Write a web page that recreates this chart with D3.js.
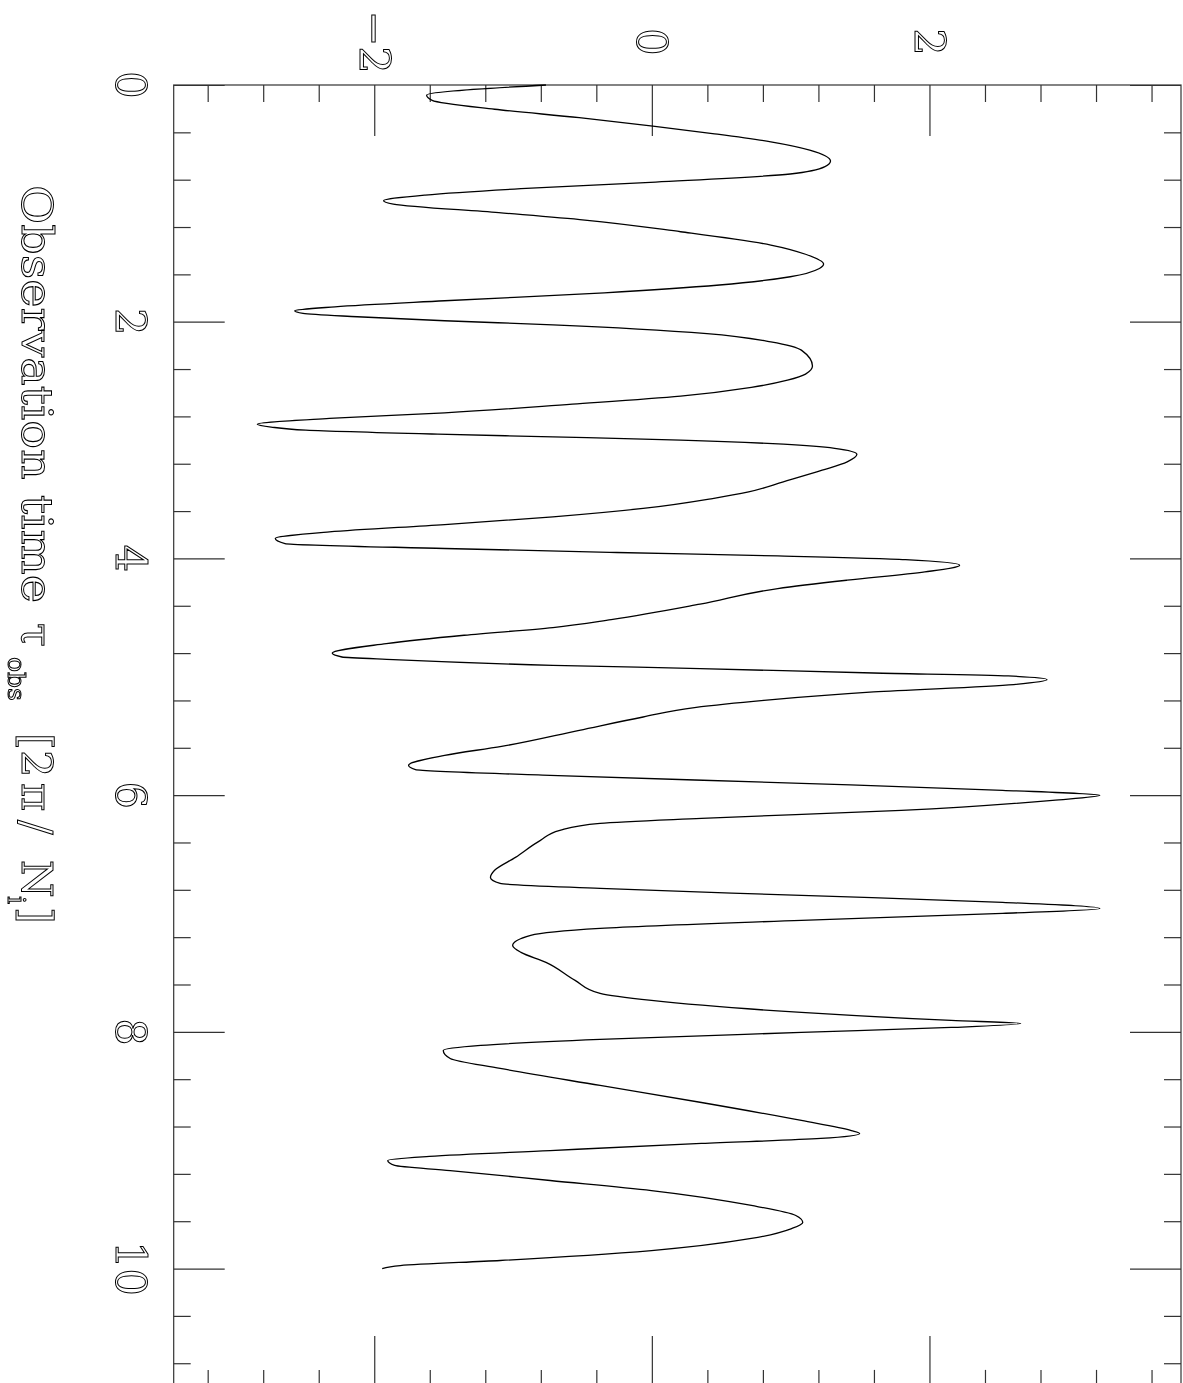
<!DOCTYPE html>
<html>
<head>
<meta charset="utf-8">
<script src="https://cdn.jsdelivr.net/npm/d3@7"></script>
<style>
body { margin: 0; background: #fff; }
svg { display: block; filter: grayscale(1); }
.lbl { font-family: "DejaVu Serif", serif; fill: #fff; stroke: #000; stroke-width: 1; }
</style>
</head>
<body>
<div id="chart"></div>
<script>
// time in units of 2 pi / N_i
let tObs = [0.000, 0.085, 0.130, 0.205, 0.276, 0.347, 0.410, 0.480, 0.550, 0.643,
    0.690, 0.752, 0.820, 0.876, 0.930, 0.978, 1.006, 1.079, 1.141, 1.240,
    1.352, 1.430, 1.513, 1.550, 1.620, 1.690, 1.756, 1.823, 1.874, 1.908,
    1.930, 1.958, 1.992, 2.026, 2.100, 2.170, 2.240, 2.375, 2.443, 2.494,
    2.555, 2.629, 2.697, 2.770, 2.817, 2.866, 2.890, 2.916, 2.950, 2.973,
    3.000, 3.035, 3.070, 3.120, 3.184, 3.255, 3.353, 3.438, 3.494, 3.578,
    3.649, 3.714, 3.776, 3.832, 3.874, 3.916, 3.950, 3.979, 4.010, 4.057,
    4.114, 4.184, 4.255, 4.387, 4.517, 4.584, 4.649, 4.720, 4.800, 4.833,
    4.855, 4.903, 4.931, 4.968, 4.993, 5.024, 5.066, 5.128, 5.199, 5.260,
    5.340, 5.452, 5.588, 5.664, 5.748, 5.785, 5.833, 5.900, 5.959, 6.002,
    6.044, 6.129, 6.196, 6.238, 6.297, 6.382, 6.526, 6.635, 6.695, 6.746,
    6.788, 6.847, 6.906, 6.957, 6.999, 7.058, 7.126, 7.185, 7.270, 7.329,
    7.413, 7.565, 7.675, 7.735, 7.836, 7.904, 7.929, 7.963, 8.005, 8.064,
    8.115, 8.157, 8.225, 8.309, 8.453, 8.597, 8.749, 8.834, 8.859, 8.901,
    8.943, 9.003, 9.053, 9.087, 9.129, 9.172, 9.256, 9.341, 9.467, 9.552,
    9.611, 9.662, 9.746, 9.848, 9.932, 9.975, 10.000];

let signal = [-0.77, -1.63, -1.59, -1.14, -0.53, 0.00, 0.43, 0.85, 1.13, 1.28,
    1.24, 0.99, 0.02, -0.95, -1.64, -1.94, -1.87, -1.11, -0.49, 0.20,
    0.85, 1.10, 1.23, 1.20, 0.99, 0.48, -0.35, -1.50, -2.29, -2.58,
    -2.52, -2.13, -1.50, -0.72, 0.39, 0.85, 1.07, 1.15, 1.10, 0.97,
    0.71, 0.20, -0.58, -1.50, -2.33, -2.85, -2.75, -2.50, -1.55, -0.72,
    0.20, 0.94, 1.31, 1.47, 1.40, 1.22, 0.94, 0.69, 0.43, -0.07,
    -0.72, -1.50, -2.33, -2.72, -2.65, -1.50, -0.26, 0.90, 1.82, 2.21,
    1.96, 1.40, 0.90, 0.34, -0.30, -0.72, -1.36, -1.92, -2.31, -2.24,
    -1.87, -0.72, 0.34, 1.59, 2.56, 2.84, 2.60, 1.59, 0.80, 0.30,
    -0.07, -0.53, -1.09, -1.50, -1.76, -1.71, -0.74, 1.07, 2.52, 3.22,
    2.88, 1.79, 0.35, -0.38, -0.67, -0.81, -0.99, -1.14, -1.17, -1.10,
    -0.38, 1.07, 2.52, 3.22, 2.52, 1.07, -0.38, -0.88, -1.01, -0.95,
    -0.77, -0.56, -0.38, -0.01, 1.07, 2.15, 2.65, 2.15, 1.07, -0.38,
    -1.24, -1.51, -1.46, -1.10, -0.38, 0.35, 1.07, 1.43, 1.49, 1.21,
    0.35, -0.74, -1.61, -1.91, -1.86, -1.46, -0.74, -0.01, 0.71, 1.03,
    1.08, 1.00, 0.71, -0.01, -1.10, -1.82, -1.95];

let timeTicks = [0, 2, 4, 6, 8, 10];
let timeMinor = [0.4, 0.8, 1.2, 1.6, 2.4, 2.8, 3.2, 3.6, 4.4, 4.8, 5.2, 5.6,
    6.4, 6.8, 7.2, 7.6, 8.4, 8.8, 9.2, 9.6, 10.4, 10.8];
let valueTicks = [-2, 0, 2];
let valueMinor = [-3.2, -2.8, -2.4, -1.6, -1.2, -0.8, -0.4, 0.4, 0.8, 1.2, 1.6,
    2.4, 2.8, 3.2, 3.6];

let pageWidth = 1183;
let pageHeight = 1383;

let svg = d3.select("#chart")
    .append("svg")
    .attr("width", pageWidth)
    .attr("height", pageHeight);

// plot is laid out in landscape, then turned a quarter turn clockwise
let plot = svg.append("g")
    .attr("transform", `translate(${pageWidth}, 0) rotate(90)`);

let frame = { left: 85, right: 1386.9, top: 2, bottom: 1009.3 };

let x = d3.scaleLinear().domain([0, 11]).range([frame.left, frame.right]);
let y = d3.scaleLinear().domain([-3.452, 3.805]).range([frame.bottom, frame.top]);

let majorLen = 51, minorLen = 17;

function drawTicks(axis, values, len, pos) {
    plot.append("g")
        .attr("transform", pos)
        .call(axis.tickValues(values).tickSize(-len).tickSizeOuter(0).tickFormat(""))
        .call(g => g.select(".domain").remove())
        .call(g => g.selectAll("text").remove())
        .selectAll("line")
        .attr("stroke", "#333")
        .attr("stroke-width", 1.2);
}

// ticks point inwards on all four sides
drawTicks(d3.axisBottom(x), timeTicks, majorLen, `translate(0, ${frame.bottom})`);
drawTicks(d3.axisBottom(x), timeMinor, minorLen, `translate(0, ${frame.bottom})`);
drawTicks(d3.axisTop(x), timeTicks, majorLen, `translate(0, ${frame.top})`);
drawTicks(d3.axisTop(x), timeMinor, minorLen, `translate(0, ${frame.top})`);
drawTicks(d3.axisLeft(y), valueTicks, majorLen, `translate(${frame.left}, 0)`);
drawTicks(d3.axisLeft(y), valueMinor, minorLen, `translate(${frame.left}, 0)`);
drawTicks(d3.axisRight(y), valueTicks, majorLen, `translate(${frame.right}, 0)`);
drawTicks(d3.axisRight(y), valueMinor, minorLen, `translate(${frame.right}, 0)`);

plot.append("rect")
    .attr("x", frame.left)
    .attr("y", frame.top)
    .attr("width", frame.right - frame.left)
    .attr("height", frame.bottom - frame.top)
    .attr("fill", "none")
    .attr("stroke", "#333")
    .attr("stroke-width", 1.2);

// the curve
let line = d3.line()
    .x(d => x(d[0]))
    .y(d => y(d[1]))
    .curve(d3.curveMonotoneX);

plot.append("path")
    .datum(tObs.map((t, i) => [t, signal[i]]))
    .attr("d", line)
    .attr("fill", "none")
    .attr("stroke", "#000")
    .attr("stroke-width", 1.3);

// tick labels
plot.selectAll(".tlab")
    .data(timeTicks)
    .enter()
    .append("text")
    .attr("class", "lbl tlab")
    .attr("x", d => x(d))
    .attr("y", 1067)
    .attr("text-anchor", "middle")
    .attr("font-size", 43)
    .text(d => d);

plot.selectAll(".vlab")
    .data(valueTicks)
    .enter()
    .append("text")
    .attr("class", "lbl vlab")
    .attr("x", 42)
    .attr("y", d => y(d) + 15.7)
    .attr("text-anchor", "middle")
    .attr("font-size", 43)
    .text(d => d < 0 ? "\u2212" + (-d) : d);

// axis title, pieced together like the original lettering
let titleParts = [
    { s: "Observation time", at: 185, len: 418 },
    { s: "\u03c4", at: 623 },
    { s: "obs", at: 657, sub: true },
    { s: "[", at: 733 },
    { s: "2", at: 750 },
    { s: "\u03c0", at: 783 },
    { s: "/", at: 820 },
    { s: "N", at: 860 },
    { s: "i", at: 896, sub: true },
    { s: "]", at: 907 }
];

titleParts.forEach(p => {
    let t = plot.append("text")
        .attr("class", "lbl")
        .attr("x", p.at)
        .attr("y", p.sub ? 1175 : 1161)
        .attr("font-size", p.sub ? 25 : 43)
        .text(p.s);
    if (p.len) t.attr("textLength", p.len).attr("lengthAdjust", "spacingAndGlyphs");
});
</script>
</body>
</html>
